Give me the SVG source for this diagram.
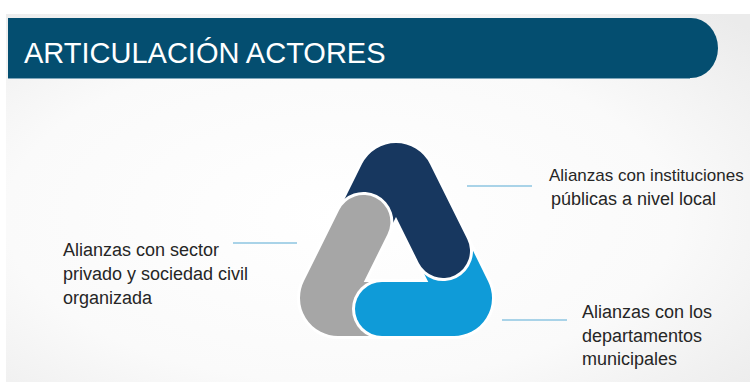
<svg xmlns="http://www.w3.org/2000/svg" width="750" height="382" viewBox="0 0 750 382">
<defs>
<radialGradient id="bg" cx="0.45" cy="0.55" r="0.75">
<stop offset="0" stop-color="#ffffff"/>
<stop offset="0.6" stop-color="#fafafa"/>
<stop offset="1" stop-color="#ebebeb"/>
</radialGradient>
<clipPath id="tipClip"><rect x="330" y="266" width="88" height="80"/></clipPath>
<path id="navyP" d="M359.4 230 L386.14 176.11 A11 11 0 0 1 405.86 176.11 L443 251"/>
<path id="blueP" d="M435.6 236 L463.86 293.11 A11 11 0 0 1 454 309 L382 309"/>
<path id="greyP" d="M387 309 L338 309 A11 11 0 0 1 328.15 293.11 L363.4 222"/>
<path id="tipP" d="M432 309 L382 309"/>
<style>
.halo{fill:none;stroke:#ffffff;stroke-width:60;stroke-linecap:round;stroke-linejoin:round}
.band{fill:none;stroke-width:54;stroke-linecap:round;stroke-linejoin:round}
.navy{stroke:#17375f}
.blue{stroke:#0f9bd8}
.grey{stroke:#a6a6a6}
.conn{stroke:#a9d3e8;stroke-width:2;fill:none}
.lbl{font-family:"Liberation Sans",Arial,sans-serif;font-size:18px;fill:#262626}
.tight{font-size:17px}
.title{font-family:"Liberation Sans",Arial,sans-serif;font-size:29px;fill:#ffffff}
</style>
</defs>
<rect x="0" y="0" width="750" height="382" fill="#ffffff"/>
<rect x="6" y="14" width="744" height="368" fill="url(#bg)"/>
<g id="header">
<path d="M8 18 H691 A27 30 0 0 1 691 78 H8 Z" fill="#044e70"/>
<path d="M8 78.5 H690" stroke="#7fa6ba" stroke-width="1" fill="none"/>
<text class="title" x="24" y="63">ARTICULACIÓN ACTORES</text>
</g>
<g id="connectors">
<line class="conn" x1="467" y1="186" x2="532" y2="186"/>
<line class="conn" x1="233" y1="243" x2="297" y2="243"/>
<line class="conn" x1="502" y1="320" x2="567" y2="320"/>
</g>
<g id="cycle">
<g id="piece-blue"><use href="#blueP" class="halo"/><use href="#blueP" class="band blue"/></g>
<g id="piece-navy"><use href="#navyP" class="halo"/><use href="#navyP" class="band navy"/></g>
<g id="piece-grey"><use href="#greyP" class="halo"/><use href="#greyP" class="band grey"/></g>
<g id="piece-blue-tip" clip-path="url(#tipClip)"><use href="#tipP" class="halo"/><use href="#tipP" class="band blue"/></g>
</g>
<g id="label-instituciones">
<text class="lbl tight" x="549" y="181">Alianzas con instituciones</text>
<text class="lbl" x="551" y="205">públicas a nivel local</text>
</g>
<g id="label-sector">
<text class="lbl" x="63" y="256">Alianzas con sector</text>
<text class="lbl" x="63" y="280">privado y sociedad civil</text>
<text class="lbl" x="63" y="304">organizada</text>
</g>
<g id="label-departamentos">
<text class="lbl" x="582" y="318">Alianzas con los</text>
<text class="lbl" x="582" y="342">departamentos</text>
<text class="lbl" x="582" y="365">municipales</text>
</g>
</svg>
